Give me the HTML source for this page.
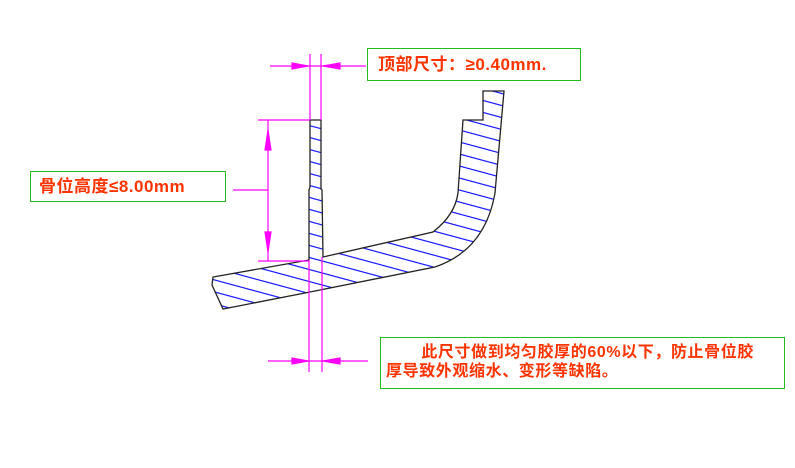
<!DOCTYPE html>
<html><head><meta charset="utf-8"><style>
html,body{margin:0;padding:0;background:#fff;width:795px;height:468px;overflow:hidden;}
body{position:relative;font-family:"Liberation Sans","Noto Sans CJK SC",sans-serif;}
.box{position:absolute;border:1px solid #22bb22;background:#fff;color:#ff3300;font-weight:bold;box-sizing:border-box;white-space:nowrap;overflow:hidden;}
</style></head><body>
<svg width="795" height="468" style="position:absolute;left:0;top:0">
<defs>
<clipPath id="c"><path d="M310,120 L321,120 L321,189 L322,190 L323,257 L433,232 Q455,215 458,193 L463,120 L483,120 L483,91 L504,91 L495,193 Q485,250 435,267 L310,292 L223,309 L212,285 L213,277 L309,260 L309,190 L310,187 Z"/></clipPath>
</defs>
<g clip-path="url(#c)" stroke="#1a1aff" stroke-width="1.2">
<g id="h"></g>
</g>
<path d="M310,120 L321,120 L321,189 L322,190 L323,257 L433,232 Q455,215 458,193 L463,120 L483,120 L483,91 L504,91 L495,193 Q485,250 435,267 L310,292 L223,309 L212,285 L213,277 L309,260 L309,190 L310,187 Z" fill="none" stroke="#222" stroke-width="1.3"/>
<g stroke="#ff00ff" stroke-width="1.2" fill="#ff00ff">
<line x1="310" y1="54" x2="310" y2="120"/><line x1="321" y1="54" x2="321" y2="120"/>
<line x1="309" y1="260" x2="309" y2="372"/><line x1="322" y1="257" x2="322" y2="372"/>
<line x1="270" y1="66" x2="366" y2="66"/>
<line x1="268" y1="361" x2="368" y2="361"/>
<line x1="258" y1="120" x2="310" y2="120"/><line x1="258" y1="261" x2="309" y2="261"/>
<line x1="268" y1="120" x2="268" y2="261"/>
<line x1="233" y1="190" x2="268" y2="190"/>
<polygon points="292,63 292,69 308,66"/><polygon points="340,63 340,69 323,66"/>
<polygon points="292,358 292,364 308,361"/><polygon points="340,358 340,364 323,361"/>
<polygon points="265,150 271,150 268,130"/><polygon points="265,232 271,232 268,252"/>
</g>
</svg>
<script>
var g=document.getElementById('h'),s='';
for(var k=-300;k<400;k+=12){s+='<line x1="200" y1="'+(k+60)+'" x2="520" y2="'+(k+60+320*0.27)+'"/>';}
g.innerHTML=s;
</script>
<div class="box" style="left:367px;top:48px;width:214px;height:33px;line-height:31px;padding-left:10px;font-size:17px;letter-spacing:0.5px;">顶部尺寸：≥0.40mm.</div>
<div class="box" style="left:30px;top:171px;width:196px;height:31px;line-height:29px;padding-left:8px;font-size:17px;letter-spacing:0.5px;">骨位高度≤8.00mm</div>
<div class="box" style="left:380px;top:337px;width:405px;height:52px;line-height:19px;padding:5px 0 0 5px;font-size:16px;letter-spacing:0.6px;">&nbsp;&nbsp;&nbsp;&nbsp;&nbsp;&nbsp;&nbsp;此尺寸做到均匀胶厚的60%以下，防止骨位胶<br>厚导致外观缩水、变形等缺陷。</div>
</body></html>
